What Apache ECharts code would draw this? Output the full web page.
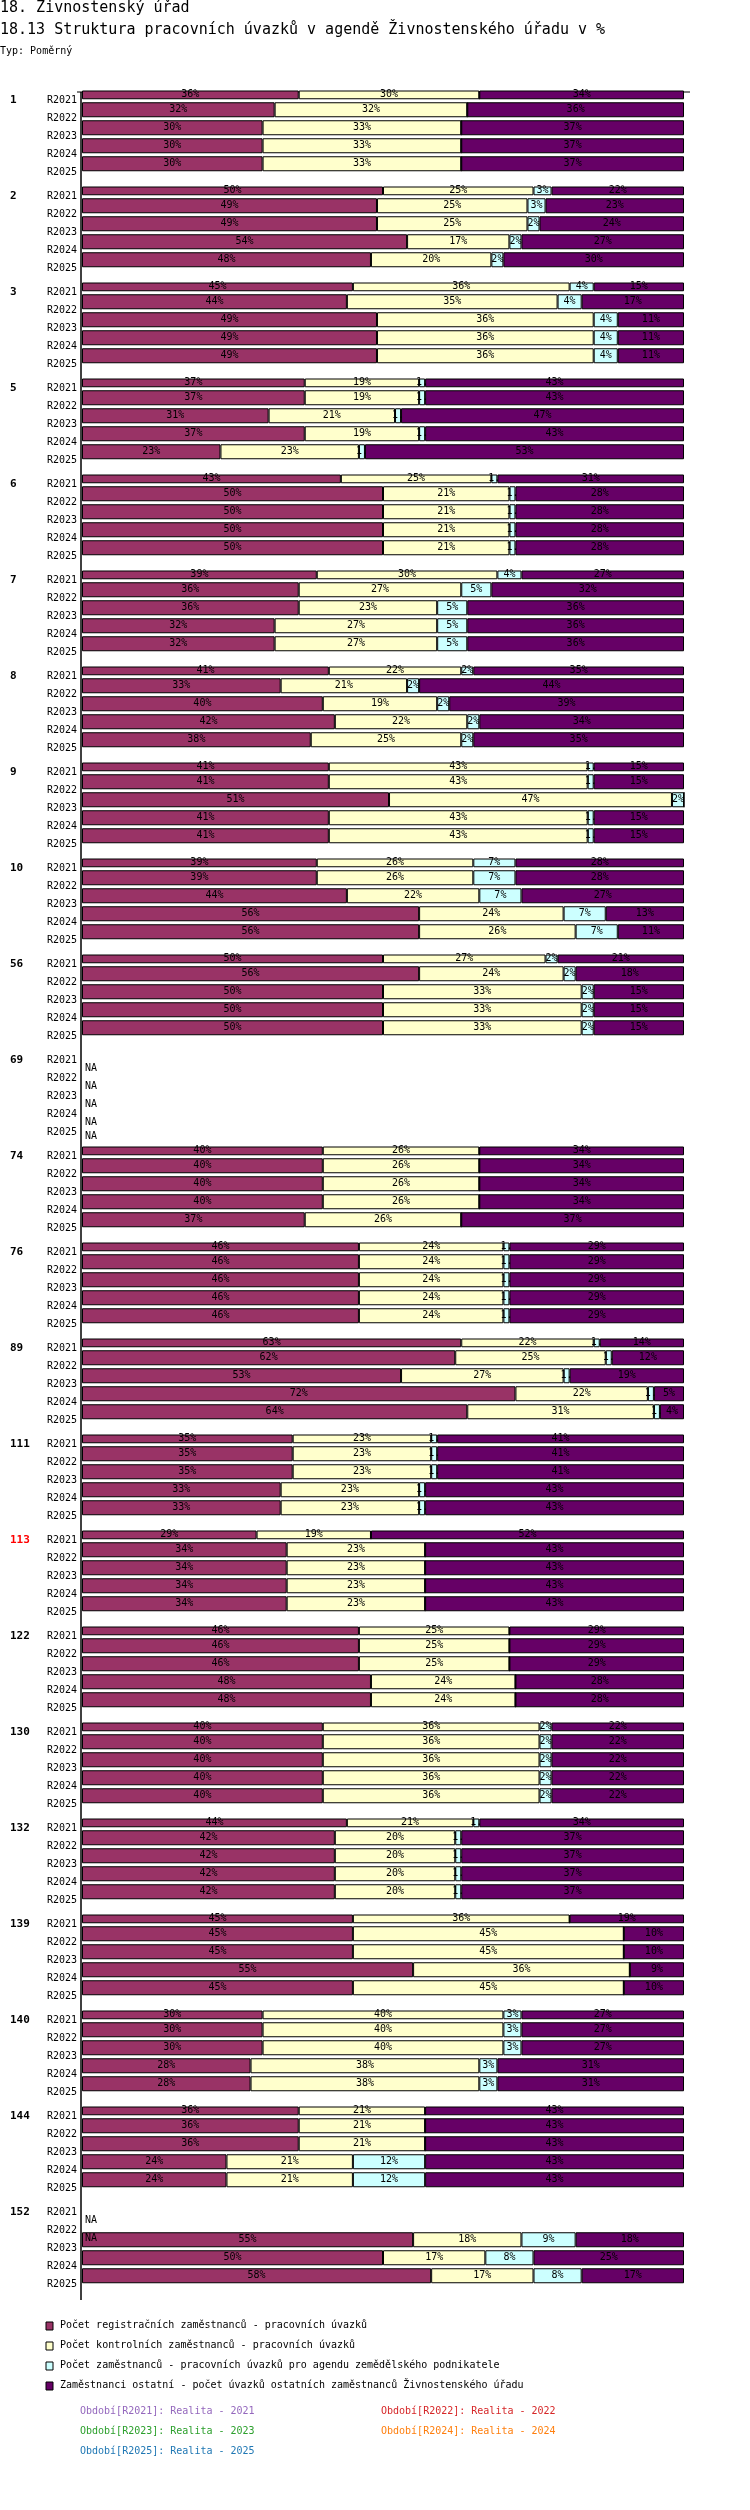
<!DOCTYPE html>
<html><head><meta charset="utf-8">
<script src="https://cdn.jsdelivr.net/npm/echarts@6/dist/echarts.min.js"></script>
<style>html,body{margin:0;padding:0;background:#fff}#c{width:750px;height:2510px}</style>
</head><body><div id="c"></div>
<script>
const groups = ['1','2','3','5','6','7','8','9','10','56','69','74','76','89','111','113','122','130','132','139','140','144','152'];
const periods = ['R2021','R2022','R2023','R2024','R2025'];
const seriesNames = ['Počet registračních zaměstnanců - pracovních úvazků','Počet kontrolních zaměstnanců - pracovních úvazků','Počet zaměstnanců - pracovních úvazků pro agendu zemědělského podnikatele','Zaměstnanci ostatní - počet úvazků ostatních zaměstnanců Živnostenského úřadu'];
const colors = ['#993366','#FFFFCC','#CCFFFF','#660066'];
const N = null;
const registracni = [
[36,32,30,30,30],[50,49,49,54,48],[45,44,49,49,49],[37,37,31,37,23],[43,50,50,50,50],[39,36,36,32,32],[41,33,40,42,38],[41,41,51,41,41],[39,39,44,56,56],[50,56,50,50,50],[N,N,N,N,N],[40,40,40,40,37],[46,46,46,46,46],[63,62,53,72,64],[35,35,35,33,33],[29,34,34,34,34],[46,46,46,48,48],[40,40,40,40,40],[44,42,42,42,42],[45,45,45,55,45],[30,30,30,28,28],[36,36,36,24,24],[N,N,55,50,58]];
const kontrolni = [
[30,32,33,33,33],[25,25,25,17,20],[36,35,36,36,36],[19,19,21,19,23],[25,21,21,21,21],[30,27,23,27,27],[22,21,19,22,25],[43,43,47,43,43],[26,26,22,24,26],[27,24,33,33,33],[N,N,N,N,N],[26,26,26,26,26],[24,24,24,24,24],[22,25,27,22,31],[23,23,23,23,23],[19,23,23,23,23],[25,25,25,24,24],[36,36,36,36,36],[21,20,20,20,20],[36,45,45,36,45],[40,40,40,38,38],[21,21,21,21,21],[N,N,18,17,17]];
const zemedelsky = [
[0,0,0,0,0],[3,3,2,2,2],[4,4,4,4,4],[1,1,1,1,1],[1,1,1,1,1],[4,5,5,5,5],[2,2,2,2,2],[1,1,2,1,1],[7,7,7,7,7],[2,2,2,2,2],[N,N,N,N,N],[0,0,0,0,0],[1,1,1,1,1],[1,1,1,1,1],[1,1,1,1,1],[0,0,0,0,0],[0,0,0,0,0],[2,2,2,2,2],[1,1,1,1,1],[0,0,0,0,0],[3,3,3,3,3],[0,0,0,12,12],[N,N,9,8,8]];
const ostatni = [
[34,36,37,37,37],[22,23,24,27,30],[15,17,11,11,11],[43,43,47,43,53],[31,28,28,28,28],[27,32,36,36,36],[35,44,39,34,35],[15,15,0,15,15],[28,28,27,13,11],[21,18,15,15,15],[N,N,N,N,N],[34,34,34,34,37],[29,29,29,29,29],[14,12,19,5,4],[41,41,41,43,43],[52,43,43,43,43],[29,29,29,28,28],[22,22,22,22,22],[34,37,37,37,37],[19,10,10,9,10],[27,27,27,31,31],[43,43,43,43,43],[N,N,18,25,17]];
const periodLegend = [['Období[R2021]: Realita - 2021','#9467bd'],['Období[R2022]: Realita - 2022','#d62728'],['Období[R2023]: Realita - 2023','#2ca02c'],['Období[R2024]: Realita - 2024','#ff7f0e'],['Období[R2025]: Realita - 2025','#1f77b4']];

const FONT = 'DejaVu Sans Mono';
const all = [registracni,kontrolni,zemedelsky,ostatni];
const TOP = 91, PITCH = 96, L = 82, W = 602;
const grid=[],xAxis=[],yAxis=[],series=[],graphic=[];
groups.forEach((g,gi)=>{
  grid.push({left:L,width:W,top:TOP+gi*PITCH,height:90});
  xAxis.push({gridIndex:gi,type:'value',min:0,max:100,show:false});
  yAxis.push({gridIndex:gi,type:'category',data:periods,inverse:true,
    axisLine:{show:false},axisTick:{show:false},
    axisLabel:{fontFamily:FONT,fontSize:10,color:'#000',margin:5}});
  const sums = periods.map((p,r)=>all.reduce((s,a)=>s+(a[gi][r]||0),0));
  all.forEach((arr,si)=>{
    series.push({type:'bar',name:seriesNames[si],xAxisIndex:gi,yAxisIndex:gi,stack:'s'+gi,
      barWidth:15,animation:false,
      itemStyle:{color:colors[si],borderColor:'#000',borderWidth:1},
      label:{show:true,position:'inside',fontFamily:FONT,fontSize:10,color:'#000',
        formatter:p=>{const v=p.data.orig;if(!v)return '';return v<2?'1.':v+'%';}},
      data:arr[gi].map((v,r)=>({value:v==null?null:(sums[r]?v/sums[r]*100:0),orig:v}))});
  });
  // NA labels
  series.push({type:'bar',xAxisIndex:gi,yAxisIndex:gi,stack:'na'+gi,barWidth:15,animation:false,
    itemStyle:{color:'transparent'},
    label:{show:true,position:'right',distance:3,fontFamily:FONT,fontSize:10,color:'#000',
      formatter:p=>p.data.na?'NA':''},
    data:periods.map((p,r)=>({value:sums[r]?null:0,na:!sums[r]}))});
  graphic.push({type:'text',left:10,top:TOP+gi*PITCH+4,
    style:{text:g,font:'bold 11px '+FONT,fill:g==='113'?'#ff0000':'#000'}});
});
graphic.push({type:'line',shape:{x1:81,y1:92,x2:81,y2:2300},style:{stroke:'#000',lineWidth:1.5}});
graphic.push({type:'line',shape:{x1:77,y1:92,x2:690,y2:92},style:{stroke:'#000',lineWidth:1}});
graphic.push({type:'text',left:0,top:1,style:{text:'18. Živnostenský úřad',font:'15px '+FONT,fill:'#000'}});
graphic.push({type:'text',left:0,top:23,style:{text:'18.13 Struktura pracovních úvazků v agendě Živnostenského úřadu v %',font:'15px '+FONT,fill:'#000'}});
graphic.push({type:'text',left:0,top:46,style:{text:'Typ: Poměrný',font:'10px '+FONT,fill:'#000'}});
seriesNames.forEach((n,i)=>{
  graphic.push({type:'rect',shape:{x:46,y:2322+i*20,width:7,height:8},style:{fill:colors[i],stroke:'#000',lineWidth:1}});
  graphic.push({type:'text',left:60,top:2320+i*20,style:{text:n,font:'10px '+FONT,fill:'#000'}});
});
periodLegend.forEach((p,i)=>{
  graphic.push({type:'text',left:i%2?381:80,top:2406+Math.floor(i/2)*20,style:{text:p[0],font:'10px '+FONT,fill:p[1]}});
});
const chart = echarts.init(document.getElementById('c'));
chart.setOption({animation:false,grid,xAxis,yAxis,series,graphic});
</script></body></html>
